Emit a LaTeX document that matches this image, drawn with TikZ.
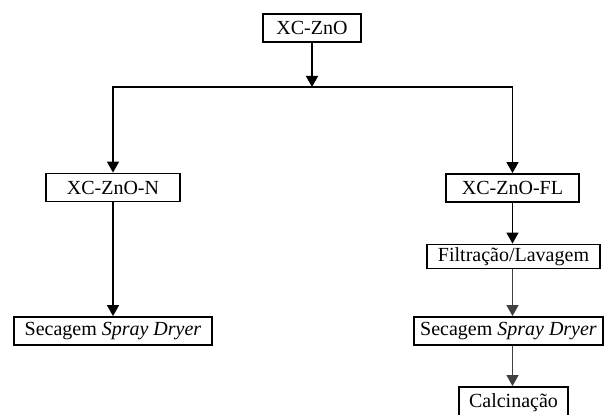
\documentclass[tikz,border=0pt]{standalone}
\usepackage{fontspec}
\setmainfont{Liberation Serif}
\usetikzlibrary{arrows.meta}

\begin{document}
\begin{tikzpicture}[x=0.5pt, y=-0.5pt, >={Triangle[length=5.5pt,width=6pt]},
    caixa/.style={draw, line width=0.9pt, inner sep=0pt, minimum height=14pt},
    seta/.style={->, line width=0.75pt},
    setafina/.style={->, line width=0.6pt, black!75}]
    \useasboundingbox (0,0) rectangle (615,415);
    \node[caixa, minimum width=49pt] (xc) at (312,28) {XC-ZnO};
    \node[caixa, minimum width=67pt] (xcn) at (113,187.5) {XC-ZnO-N};
    \node[caixa, minimum width=66.5pt] (xcfl) at (512.5,188) {XC-ZnO-FL};
    \node[caixa, minimum width=86.5pt, minimum height=12pt] (filt) at (513.5,256.5) {Filtração/Lavagem};
    \node[caixa, minimum width=99pt] (secn) at (113,331) {Secagem \textit{Spray Dryer}};
    \node[caixa, minimum width=94.5pt] (secfl) at (508.5,331) {Secagem \textit{Spray Dryer}};
    \node[caixa, minimum width=54.5pt, minimum height=16pt] (calc) at (513.5,403) {Calcinação};
    \coordinate (split) at (312,87);

    \draw[seta] (xc) -- (split);
    \draw[seta] (split) -| (xcn);
    \draw[seta] (split) -| (xcfl);
    \draw[seta] (xcn) -- (xcn |- secn.north);
    \draw[seta] (xcfl) -- (xcfl |- filt.north);
    \draw[setafina] (xcfl |- filt.south) -- (xcfl |- secfl.north);
    \draw[setafina] (xcfl |- secfl.south) -- (xcfl |- calc.north);
\end{tikzpicture}
\end{document}
